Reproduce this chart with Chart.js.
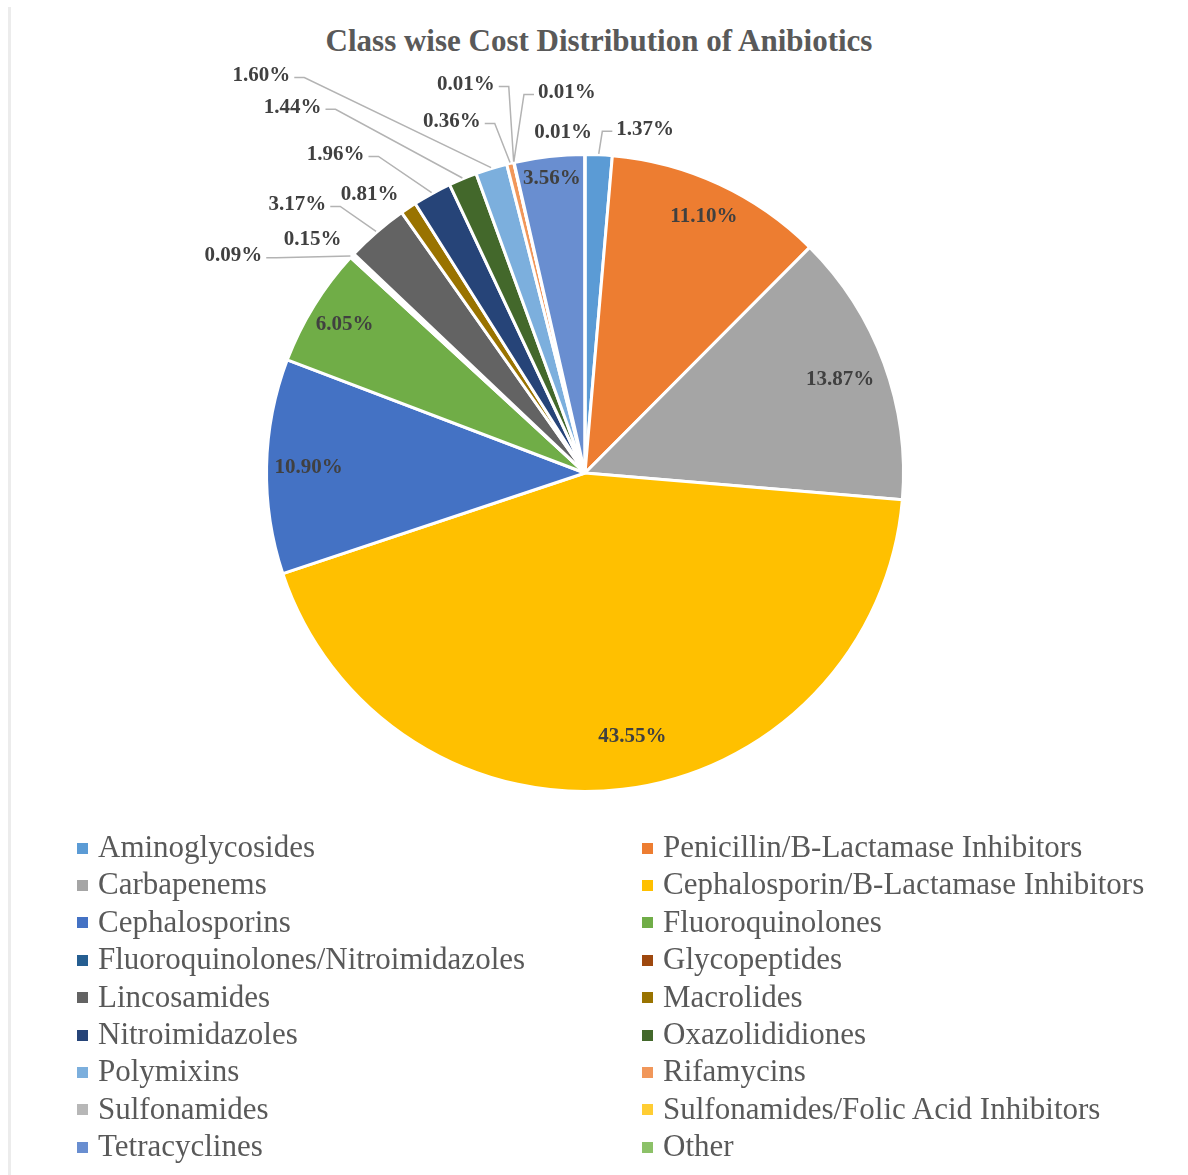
<!DOCTYPE html>
<html>
<head>
<meta charset="utf-8">
<script src="https://cdn.jsdelivr.net/npm/chart.js@4.4.1/dist/chart.umd.min.js"></script>
<style>
  html, body { margin: 0; padding: 0; background: #ffffff; }
  body { width: 1188px; height: 1175px; position: relative; overflow: hidden; font-family: "Liberation Serif", "DejaVu Serif", serif; }
  #edge { position: absolute; left: 8px; top: 7px; width: 3px; height: 1168px; background: #ececec; }
  #title { position: absolute; left: 599px; top: 24px; transform: translateX(-50%); white-space: nowrap;
           font: bold 31px "Liberation Serif", serif; color: #595959; line-height: 34px; }
  #wrap { position: absolute; left: 0; top: 0; width: 1170px; height: 820px; }
  #legend { position: absolute; left: 0; top: 0; width: 1188px; height: 1175px; pointer-events: none; }
  .li { position: absolute; display: flex; align-items: center; height: 36px; white-space: nowrap;
        font: 31px "Liberation Serif", serif; color: #595959; }
  .li span.box { display: inline-block; width: 11px; height: 11px; margin-right: 10px; margin-top: 2px; }
</style>
</head>
<body>
<div id="edge"></div>
<div id="title">Class wise Cost Distribution of Anibiotics</div>
<div id="wrap"><canvas id="c"></canvas></div>
<div id="legend"></div>
<script>
// ---- data ----
const categories = [
  "Aminoglycosides", "Penicillin/B-Lactamase Inhibitors",
  "Carbapenems", "Cephalosporin/B-Lactamase Inhibitors",
  "Cephalosporins", "Fluoroquinolones",
  "Fluoroquinolones/Nitroimidazoles", "Glycopeptides",
  "Lincosamides", "Macrolides",
  "Nitroimidazoles", "Oxazolididiones",
  "Polymixins", "Rifamycins",
  "Sulfonamides", "Sulfonamides/Folic Acid Inhibitors",
  "Tetracyclines", "Other"
];
const costShare = [1.37, 11.10, 13.87, 43.55, 10.90, 6.05, 0.09, 0.15, 3.17, 0.81, 1.96, 1.44, 1.60, 0.36, 0.01, 0.01, 3.56, 0.01];
const sliceColors = [
  "#5B9BD5", "#ED7D31", "#A5A5A5", "#FFC000", "#4472C4", "#70AD47",
  "#255E91", "#9E480E", "#636363", "#997300", "#264478", "#43682B",
  "#7CAFDD", "#F1975A", "#B7B7B7", "#FFCD33", "#698ED0", "#8CC168"
];

// ---- label placement (style/layout, in units of the pie radius) ----
const labelPlacement = [
  {out: [0.189, -1.079], leader: true},
  {inR: 0.886},
  {inR: 0.853},
  {inR: 0.84, dAng: -3.4},
  {inR: 0.868},
  {inR: 0.887},
  {out: [-1.104, -0.682], leader: true},
  {out: [-0.855, -0.733], leader: false},
  {out: [-0.903, -0.843], leader: true},
  {out: [-0.676, -0.874], leader: false},
  {out: [-0.783, -1.000], leader: true},
  {out: [-0.918, -1.148], leader: true},
  {out: [-1.016, -1.248], leader: true},
  {out: [-0.418, -1.104], leader: true},
  {out: [-0.374, -1.220], leader: true},
  {out: [-0.057, -1.195], leader: true},
  {inR: 0.93},
  {out: [-0.069, -1.069], leader: false}
];

const labelPlugin = {
  id: 'sliceLabels',
  afterDatasetsDraw(chart) {
    const ctx = chart.ctx;
    const meta = chart.getDatasetMeta(0);
    const vals = chart.data.datasets[0].data;
    ctx.save();
    ctx.font = 'bold 21px "Liberation Serif", serif';
    ctx.textAlign = 'center';
    ctx.textBaseline = 'middle';
    meta.data.forEach((arc, i) => {
      const p = labelPlacement[i];
      const txt = vals[i].toFixed(2) + '%';
      const mid = (arc.startAngle + arc.endAngle) / 2;
      const R = arc.outerRadius;
      let lx, ly;
      if (p.inR !== undefined) {
        const a = mid + (p.dAng || 0) * Math.PI / 180;
        lx = arc.x + Math.cos(a) * R * p.inR;
        ly = arc.y + Math.sin(a) * R * p.inR;
      } else {
        lx = arc.x + p.out[0] * R;
        ly = arc.y + p.out[1] * R;
        if (p.leader) {
          const w = ctx.measureText(txt).width;
          const px = arc.x + Math.cos(mid) * (R + 1);
          const py = arc.y + Math.sin(mid) * (R + 1);
          let sx, kx;
          if (px > lx) { sx = lx + w / 2 + 4; kx = sx + 10; }
          else { sx = lx - w / 2 - 4; kx = sx - 10; }
          ctx.beginPath();
          ctx.strokeStyle = '#b3b3b3';
          ctx.lineWidth = 1.5;
          ctx.moveTo(sx, ly + 2);
          ctx.lineTo(kx, ly + 2);
          ctx.lineTo(px, py);
          ctx.stroke();
        }
      }
      ctx.fillStyle = '#404040';
      ctx.fillText(txt, lx, ly);
    });
    ctx.restore();
  }
};

const chart = new Chart(document.getElementById('c'), {
  type: 'pie',
  data: {
    labels: categories,
    datasets: [{
      data: costShare,
      backgroundColor: sliceColors,
      borderColor: '#ffffff',
      borderWidth: 3
    }]
  },
  options: {
    responsive: true,
    maintainAspectRatio: false,
    animation: false,
    layout: { padding: { top: 152, bottom: 26, left: 265, right: 265 } },
    plugins: {
      legend: { display: false },
      tooltip: { enabled: false },
      title: { display: false }
    }
  },
  plugins: [labelPlugin]
});

// ---- HTML legend in two aligned columns, built from the chart data ----
const legend = document.getElementById('legend');
chart.data.labels.forEach((name, i) => {
  const col = i % 2, row = Math.floor(i / 2);
  const el = document.createElement('div');
  el.className = 'li';
  el.style.left = (col === 0 ? 77 : 642) + 'px';
  el.style.top = (829 + row * 37.4) + 'px';
  const box = document.createElement('span');
  box.className = 'box';
  box.style.background = chart.data.datasets[0].backgroundColor[i];
  el.appendChild(box);
  el.appendChild(document.createTextNode(name));
  legend.appendChild(el);
});
</script>
</body>
</html>
